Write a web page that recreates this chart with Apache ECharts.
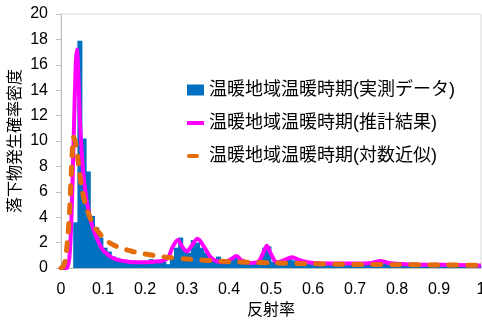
<!DOCTYPE html>
<html>
<head>
<meta charset="utf-8">
<script src="https://cdn.jsdelivr.net/npm/echarts@6/dist/echarts.min.js"></script>
<style>
  html, body { margin: 0; padding: 0; background: #fff; }
  #chart { width: 482px; height: 322px; }
</style>
</head>
<body>
<div id="chart"></div>
<script>
// 実測データ（ヒストグラム、0.01刻み）
const binWidth = 0.01;
const histValues = [
  0, 0, 0, 3.6, 17.9, 10.2, 7.6, 4.1, 3.2, 2.4,
  1.6, 1.3, 0.9, 0.8, 0.6, 0.5, 0.5, 0.6, 0.5, 0.4,
  0.5, 0.7, 0.6, 0.4, 0.5, 0.3, 0.9, 1.6, 2.4, 1.4,
  1.2, 2.2, 2.0, 1.6, 1.2, 0.8, 0.6, 0.9, 0.5, 0.4,
  0.6, 0.8, 0.6, 0.4, 0.3, 0.4, 0.5, 0.6, 1.6, 1.7,
  0.5, 0.4, 0.5, 0.6, 0.7, 0.6, 0.5, 0.4, 0.4, 0.3,
  0.3, 0.3, 0.4, 0.3, 0.3, 0.3, 0.3, 0.3, 0.3, 0.3,
  0.3, 0.3, 0.3, 0.4, 0.4, 0.5, 0.5, 0.4, 0.3, 0.4,
  0.3, 0.3, 0.3, 0.3, 0.3, 0.3, 0.3, 0.2, 0.3, 0.3,
  0.2, 0.3, 0.2, 0.2, 0.3, 0.2, 0.2, 0.2, 0.2, 0.2
];

// 推計結果
const fitX = [
  0, 0.01, 0.015, 0.02, 0.025, 0.03, 0.035, 0.038, 0.041, 0.045,
  0.05, 0.053, 0.06, 0.065, 0.07, 0.08, 0.09, 0.1, 0.11, 0.12,
  0.14, 0.16, 0.18, 0.2, 0.22, 0.24, 0.255, 0.265, 0.278, 0.29,
  0.3, 0.31, 0.325, 0.34, 0.355, 0.37, 0.39, 0.405, 0.418, 0.43,
  0.45, 0.47, 0.483, 0.49, 0.5, 0.514, 0.53, 0.55, 0.57, 0.6,
  0.65, 0.7, 0.74, 0.76, 0.78, 0.82, 0.9, 1.0
];
const fitY = [
  0, 0, 0.05, 0.8, 4, 10, 16, 17.2, 15.5, 11.7,
  8.8, 7.5, 5.5, 4.6, 3.8, 2.8, 2.0, 1.4, 1.1, 0.85,
  0.6, 0.5, 0.45, 0.45, 0.5, 0.55, 0.8, 1.6, 2.2, 1.6,
  1.3, 1.7, 2.3, 1.7, 0.9, 0.55, 0.45, 0.7, 0.95, 0.6,
  0.4, 0.5, 1.3, 1.75, 1.1, 0.45, 0.6, 0.85, 0.6, 0.4,
  0.35, 0.35, 0.4, 0.55, 0.4, 0.3, 0.25, 0.2
];

// 対数近似
const logX = [
  0, 0.005, 0.01, 0.015, 0.02, 0.025, 0.03, 0.035, 0.04, 0.05,
  0.06, 0.07, 0.08, 0.09, 0.1, 0.12, 0.14, 0.17, 0.2, 0.25,
  0.3, 0.4, 0.5, 0.6, 0.7, 0.8, 0.9, 1.0
];
const logY = [
  0, 0.1, 0.6, 2, 4.2, 7.8, 10.3, 9.8, 8.6, 6.2,
  4.8, 3.9, 3.2, 2.8, 2.4, 1.9, 1.6, 1.3, 1.1, 0.85,
  0.7, 0.5, 0.4, 0.33, 0.28, 0.26, 0.24, 0.22
];

const names = [
  '温暖地域温暖時期(実測データ)',
  '温暖地域温暖時期(推計結果)',
  '温暖地域温暖時期(対数近似)'
];

const font = 'Liberation Sans, Noto Sans CJK JP, sans-serif';

const myChart = echarts.init(document.getElementById('chart'));
const option = {
  animation: false,
  grid: {
    left: 61,
    right: 1,
    top: 14,
    bottom: 54,
    outerBoundsMode: 'none',
    containLabel: false,
    show: true,
    borderColor: '#D9D9D9',
    borderWidth: 1
  },
  legend: {
    orient: 'vertical',
    left: 187,
    top: 81,
    padding: 0,
    itemGap: 15,
    itemWidth: 17,
    itemHeight: 11,
    textStyle: {
      fontFamily: font,
      fontSize: 18,
      color: '#000'
    },
    data: [
      {name: names[0], icon: 'path://M0,0H17V11H0Z'},
      {name: names[1], icon: 'path://M0,3.5H17V7.5H0ZM0,0M17,11'},
      {name: names[2], icon: 'path://M2,3.5L10,3.5A2,2 0 0 1 10,7.5L2,7.5A2,2 0 0 1 2,3.5ZM0,0M17,11'}
    ]
  },
  xAxis: {
    type: 'value',
    min: 0,
    max: 1,
    interval: 0.1,
    name: '反射率',
    nameLocation: 'middle',
    nameGap: 35,
    nameMoveOverlap: false,
    nameTextStyle: {fontFamily: font, fontSize: 16, color: '#000'},
    axisLine: {show: true, lineStyle: {color: '#BFBFBF', width: 1}},
    axisTick: {show: false},
    splitLine: {show: false},
    axisLabel: {
      fontFamily: font,
      fontSize: 16,
      color: '#000',
      margin: 14,
      showMinLabel: true,
      showMaxLabel: true
    }
  },
  yAxis: {
    type: 'value',
    min: 0,
    max: 20,
    interval: 2,
    name: '落下物発生確率密度',
    nameLocation: 'middle',
    nameRotate: 90,
    nameGap: 37,
    nameMoveOverlap: false,
    nameTextStyle: {fontFamily: font, fontSize: 16, color: '#000'},
    axisLine: {show: true, lineStyle: {color: '#BFBFBF', width: 1}},
    axisTick: {show: true, length: 5, inside: false, lineStyle: {color: '#BFBFBF'}},
    splitLine: {show: false},
    axisLabel: {
      fontFamily: font,
      fontSize: 16,
      color: '#000',
      margin: 13
    }
  },
  series: [
    {
      name: names[0],
      type: 'bar',
      barWidth: 5,
      itemStyle: {color: '#0070C0'},
      data: histValues.map((v, i) => [i * binWidth + binWidth / 2, v])
    },
    {
      name: names[1],
      type: 'line',
      smooth: 0.3,
      showSymbol: false,
      symbol: 'none',
      itemStyle: {color: '#FF00FF'},
      lineStyle: {color: '#FF00FF', width: 4},
      data: fitX.map((x, i) => [x, fitY[i]])
    },
    {
      name: names[2],
      type: 'line',
      smooth: 0.3,
      showSymbol: false,
      symbol: 'none',
      itemStyle: {color: '#E46C0A'},
      lineStyle: {color: '#E46C0A', width: 5, type: [8, 11], cap: 'round'},
      data: logX.map((x, i) => [x, logY[i]])
    }
  ]
};
myChart.setOption(option);
</script>
</body>
</html>
